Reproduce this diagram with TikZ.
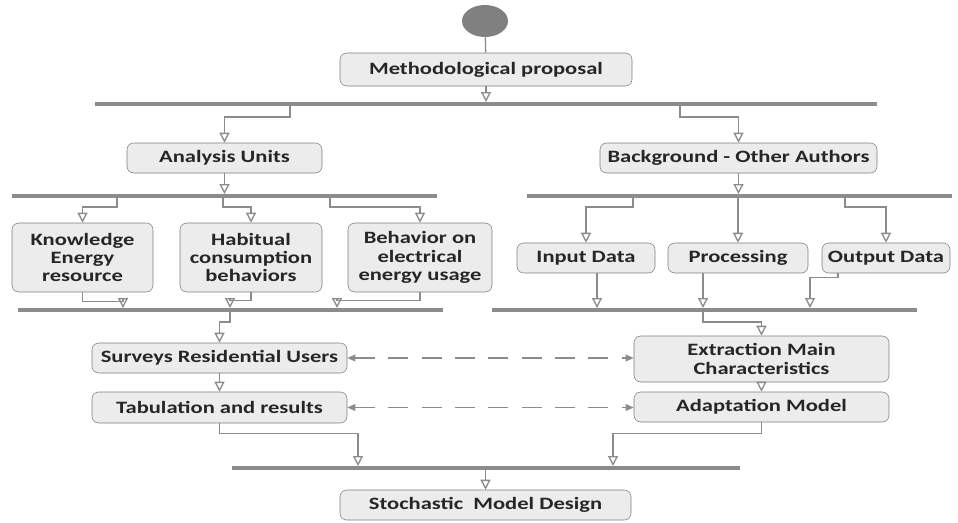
\documentclass[tikz,border=0pt]{standalone}
\usepackage{fontspec}
\setmainfont{Carlito}[FakeStretch=1.3]
\usetikzlibrary{arrows.meta,positioning,shapes.geometric}
\definecolor{linegray}{RGB}{140,140,140}
\definecolor{boxfill}{RGB}{236,236,236}
\definecolor{boxline}{RGB}{125,125,125}
\definecolor{startgray}{RGB}{128,128,128}
\tikzset{
  act/.style={draw=boxline,fill=boxfill,rounded corners=5pt,inner sep=1pt,
    font=\bfseries\fontsize{13}{13.8}\selectfont,text=black!85,align=center,minimum height=22.5pt},
  bar/.style={linegray,line width=3pt},
  flow/.style={draw=linegray,line width=1pt,-{Triangle[open,length=7.5pt,width=7.5pt]}},
  link/.style={draw=linegray,line width=1pt},
  msg/.style={draw=linegray,line width=1pt,dash pattern=on 15pt off 10pt,
    {Triangle[length=6pt,width=5pt]}-{Triangle[length=6pt,width=5pt]}},
}
\begin{document}
\begin{tikzpicture}[x=0.75pt,y=-0.75pt]
\useasboundingbox (0,0) rectangle (958,522);

% activities
\node[ellipse,fill=startgray,minimum width=34.5pt,minimum height=24pt,inner sep=0] (start) at (485,21) {};
\node[act,minimum width=219pt,minimum height=24.75pt] (meth) at (486,69.5) {Methodological proposal};
\node[act,minimum width=146.25pt] (au) at (224.5,158) {Analysis Units};
\node[act,minimum width=207.75pt] (bg) at (738.5,158) {Background - Other Authors};
\node[act,minimum width=105.75pt,minimum height=51.75pt] (kn) at (82.5,257.5) {Knowledge\\Energy\\resource};
\node[act,minimum width=106.5pt,minimum height=51.75pt] (hab) at (251,257.5) {Habitual\\consumption\\behaviors};
\node[act,minimum width=108pt,minimum height=51.75pt] (beh) at (420,257.5) {Behavior on\\electrical\\energy usage};
\node[act,minimum width=103.5pt] (inp) at (586,258) {Input Data};
\node[act,minimum width=105pt] (proc) at (738,258) {Processing};
\node[act,minimum width=96pt] (outp) at (886,258) {Output Data};
\node[act,minimum width=191.25pt] (sur) at (219.5,358) {Surveys Residential Users};
\node[act,minimum width=191.25pt,minimum height=23.25pt] (tab) at (219.5,407.5) {Tabulation and results};
\node[act,minimum width=191.25pt,minimum height=34.5pt] (ext) at (761.5,359) {Extraction Main\\Characteristics};
\node[act,minimum width=191.25pt] (ada) at (761.5,407) {Adaptation Model};
\node[act,minimum width=218.25pt] (sto) at (485.5,505) {Stochastic\ \ Model Design};

% synchronisation bars
\draw[bar] (95,104) -- (877,104);
\draw[bar] (12,196) -- (437,196);
\draw[bar] (527,196) -- (952,196);
\draw[bar] (18,310) -- (443,310);
\draw[bar] (492,310) -- (917,310);
\draw[bar] (232,468) -- (740,468);

% junctions on the bars
\coordinate (t1) at (486,102);
\coordinate (f1a) at (290,106);  \coordinate (f1b) at (680,106);
\coordinate (t2a) at (224.5,194); \coordinate (t2b) at (738.5,194);
\coordinate (f2a) at (117,198);  \coordinate (f2b) at (223,198);  \coordinate (f2c) at (330,198);
\coordinate (f2d) at (633,198);  \coordinate (f2e) at (738,198);  \coordinate (f2f) at (845,198);
\coordinate (t3a) at (123,308);  \coordinate (t3b) at (230,308);  \coordinate (t3c) at (337,308);
\coordinate (t3d) at (597,308);  \coordinate (t3e) at (703,308);  \coordinate (t3f) at (810,308);
\coordinate (f3a) at (230,312);  \coordinate (f3b) at (703,312);
\coordinate (t4a) at (358,466);  \coordinate (t4b) at (613,466);
\coordinate (f4) at (485.5,470);

% control flow
\draw[link] (start) -- (meth);
\draw[flow] (meth) -- (t1);
\draw[flow] (f1a) -- ++(0,11) -| (au.north);
\draw[flow] (f1b) -- ++(0,11) -| (bg.north);
\draw[flow] (au) -- (t2a);
\draw[flow] (bg) -- (t2b);
\draw[flow] (f2a) -- ++(0,9) -| (kn.north);
\draw[flow] (f2b) -- ++(0,9) -| (hab.north);
\draw[flow] (f2c) -- ++(0,9) -| (beh.north);
\draw[flow] (f2d) -- ++(0,9) -| (inp.north);
\draw[flow] (f2e) -- (proc.north);
\draw[flow] (f2f) -- ++(0,9) -| (outp.north);
\draw[flow] (kn.south) -- ++(0,9) -| (t3a);
\draw[flow] (hab.south) -- ++(0,8) -| (t3b);
\draw[flow] (beh.south) -- ++(0,8) -| (t3c);
\draw[flow] (inp.south -| t3d) -- (t3d);
\draw[flow] (proc.south -| t3e) -- (t3e);
\draw[flow] ([xshift=-36pt]outp.south) -- ++(0,4) -| (t3f);
\draw[flow] (f3a) -- ++(0,10) -| (sur.north);
\draw[flow] (f3b) -- ++(0,10) -| (ext.north);
\draw[flow] (sur) -- (tab);
\draw[flow] (ext) -- (ada);
\draw[msg] (sur.east) -- (sur.east -| ext.west);
\draw[msg] (tab.east) -- (tab.east -| ada.west);
\draw[flow] (tab.south) -- ++(0,10) -| (t4a);
\draw[flow] (ada.south) -- ++(0,11) -| (t4b);
\draw[flow] (f4) -- (sto);
\end{tikzpicture}
\end{document}
